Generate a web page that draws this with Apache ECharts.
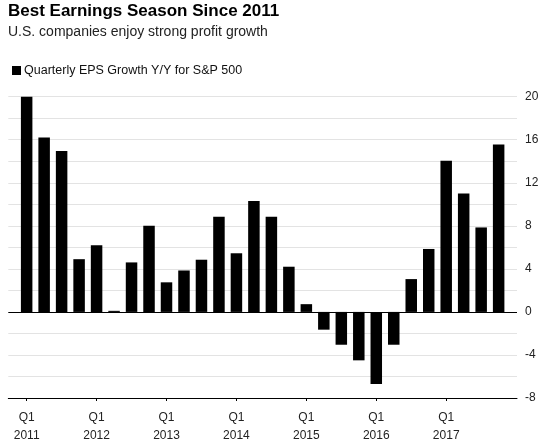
<!DOCTYPE html>
<html>
<head>
<meta charset="utf-8">
<script src="https://cdn.jsdelivr.net/npm/echarts@6/dist/echarts.min.js"></script>
<style>
html,body{margin:0;padding:0;background:#fff;}
#chart{width:550px;height:445px;}
</style>
</head>
<body>
<div id="chart"></div>
<script>
const titleText = "Best Earnings Season Since 2011";
const subtitleText = "U.S. companies enjoy strong profit growth";
const seriesName = "Quarterly EPS Growth Y/Y for S&P 500";
const quarters = [
  "Q1 2011","Q2 2011","Q3 2011","Q4 2011",
  "Q1 2012","Q2 2012","Q3 2012","Q4 2012",
  "Q1 2013","Q2 2013","Q3 2013","Q4 2013",
  "Q1 2014","Q2 2014","Q3 2014","Q4 2014",
  "Q1 2015","Q2 2015","Q3 2015","Q4 2015",
  "Q1 2016","Q2 2016","Q3 2016","Q4 2016",
  "Q1 2017","Q2 2017","Q3 2017","Q4 2017"
];
const epsGrowth = [
  20.0, 16.2, 14.95, 4.9,
  6.2, 0.1, 4.6, 8.0,
  2.75, 3.85, 4.85, 8.85,
  5.45, 10.3, 8.85, 4.2,
  0.72, -1.65, -3.05, -4.5,
  -6.7, -3.05, 3.05, 5.85,
  14.05, 11.0, 7.85, 15.55
];
const yTickLabels = [-8, -4, 0, 4, 8, 12, 16, 20];
const xTickIdx = quarters.map((q, i) => i).filter(i => quarters[i].startsWith("Q1"));

const chart = echarts.init(document.getElementById('chart'));
const font = "'Liberation Sans', Arial, Helvetica, sans-serif";
chart.setOption({
  animation: false,
  textStyle: { fontFamily: font },
  title: [
    { text: titleText, left: 3, top: -2,
      textStyle: { fontSize: 17, fontWeight: 'bold', color: '#000', fontFamily: font } },
    { text: subtitleText, left: 3, top: 20,
      textStyle: { fontSize: 14, fontWeight: 'normal', color: '#222', fontFamily: font } }
  ],
  legend: {
    left: 7, top: 59, icon: 'rect', itemWidth: 9, itemHeight: 9, itemGap: 10,
    textStyle: { fontSize: 12.5, color: '#111', padding: [0, 0, 0, -2] },
    data: [seriesName]
  },
  grid: { left: 8.3, right: 33, top: 96.7, bottom: 42.3, containLabel: false },
  xAxis: {
    type: 'value', min: -1.05, max: 28.05,
    splitLine: { show: false },
    axisLine: { show: true, onZero: false, lineStyle: { color: '#000', width: 1 } },
    axisTick: { show: true, customValues: xTickIdx, length: 3, lineStyle: { color: '#000' } },
    axisLabel: {
      show: true, customValues: xTickIdx, margin: 11, fontSize: 12, lineHeight: 18, color: '#222',
      formatter: v => { const p = quarters[Math.round(v)].split(' '); return p[0] + '\n' + p[1]; }
    }
  },
  yAxis: {
    type: 'value', position: 'right', min: -8, max: 20, interval: 2,
    axisLine: { show: false }, axisTick: { show: false },
    splitLine: { show: true, lineStyle: { color: '#e3e3e3', width: 1 } },
    axisLabel: {
      margin: 8, fontSize: 12, color: '#222',
      formatter: v => yTickLabels.indexOf(v) >= 0 ? String(v) : ''
    }
  },
  series: [{
    name: seriesName, type: 'bar', barWidth: 11.5,
    itemStyle: { color: '#000' },
    data: epsGrowth.map((v, i) => [i, v]),
    markLine: {
      silent: true, symbol: 'none', label: { show: false },
      lineStyle: { color: '#000', width: 1, type: 'solid' },
      data: [{ yAxis: 0 }]
    }
  }]
});
</script>
</body>
</html>
